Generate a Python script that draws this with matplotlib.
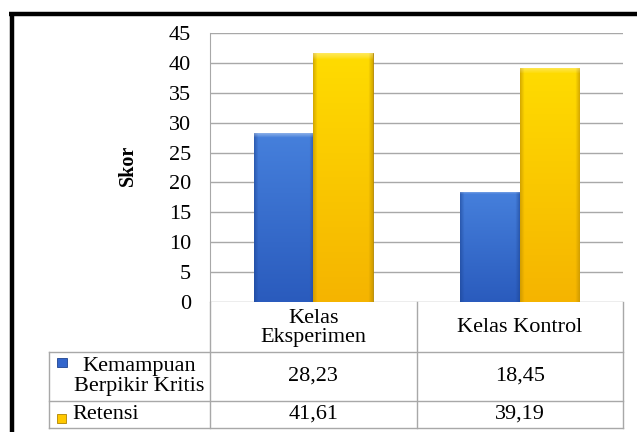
import numpy as np
import matplotlib
matplotlib.use('Agg')
import matplotlib.pyplot as plt
from matplotlib.lines import Line2D
from matplotlib.patches import Rectangle

# DATA
categories = ['Kelas\nEksperimen', 'Kelas Kontrol']
series_names = ['Kemampuan\nBerpikir Kritis', 'Retensi']
kemampuan = [28.23, 18.45]
retensi = [41.61, 39.19]
yticks = [0, 5, 10, 15, 20, 25, 30, 35, 40, 45]

W, H = 637, 432
plt.rcParams['font.family'] = ['Liberation Serif', 'DejaVu Serif']
FS = 16
GRID = '#a8a8a8'

fig = plt.figure(figsize=(W / 100, H / 100), dpi=100)


def fx(x):
    return x / W


def fy(y):
    return 1 - y / H


# plot area in pixel terms of the reference
L, R, T, B = 210, 623, 33, 302
ax = fig.add_axes([fx(L), fy(B), fx(R) - fx(L), fy(T) - fy(B)])

x = np.arange(len(categories))
bw = 0.287
blue_bars = ax.bar(x - bw / 2, kemampuan, bw, color='#3366cc', edgecolor='#1f4490', linewidth=0.6, zorder=3)
gold_bars = ax.bar(x + bw / 2, retensi, bw, color='#ffc800', edgecolor='#b08400', linewidth=0.6, zorder=3)


def shade(bars, top, bottom, edge):
    top = np.array(matplotlib.colors.to_rgb(top))
    bottom = np.array(matplotlib.colors.to_rgb(bottom))
    edge = np.array(matplotlib.colors.to_rgb(edge))
    for b in bars:
        ny, nx = 200, 60
        t = np.linspace(0, 1, ny)[:, None, None]
        img = top * (1 - t) + bottom * t
        img = np.repeat(img, nx, axis=1)
        u = np.linspace(0, 1, nx)
        side = np.clip(1 - np.minimum(u, 1 - u) / 0.07, 0, 1)[None, :, None]
        img = img * (1 - 0.55 * side) + edge * 0.55 * side
        # small highlight at top
        ht = np.clip(1 - np.linspace(0, 1, ny) / 0.025, 0, 1)[:, None, None]
        img = img * (1 - 0.35 * ht) + 0.35 * ht
        x0, w, h = b.get_x(), b.get_width(), b.get_height()
        im = ax.imshow(img, extent=(x0, x0 + w, 0, h), aspect='auto', zorder=4, origin='upper')
        im.set_clip_path(b)


shade(blue_bars, '#4680dc', '#2a5bbd', '#1d4594')
shade(gold_bars, '#ffdc00', '#f5b400', '#b88a00')

ax.set_xlim(-0.5, 1.5)
ax.set_ylim(0, 45)
ax.set_yticks(yticks)
ax.set_yticklabels([str(v) for v in yticks], fontsize=FS)
ax.tick_params(axis='y', length=0, pad=13.5)
ax.set_xticks([])
ax.grid(axis='y', color=GRID, linewidth=1, zorder=0)
ax.set_axisbelow(True)
for s in ['top', 'right', 'bottom']:
    ax.spines[s].set_visible(False)
ax.spines['left'].set_color(GRID)
fig.text(fx(128), fy(165), 'Skor', rotation=90, ha='center', va='center', fontsize=14.5, fontweight='bold')

# data table under the plot
r1, r2, r3 = 352, 401, 428
TL = 49
cols = [L, (L + R) / 2, R]


def hline(y, x0, x1):
    fig.add_artist(Line2D([fx(x0), fx(x1)], [fy(y), fy(y)], color=GRID, lw=1))


def vline(x, y0, y1):
    fig.add_artist(Line2D([fx(x), fx(x)], [fy(y0), fy(y1)], color=GRID, lw=1))


for yy in [r1, r2, r3]:
    hline(yy, TL, R)
for xx in cols:
    vline(xx, B, r3)
vline(TL, r1, r3)

centers = [(cols[0] + cols[1]) / 2, (cols[1] + cols[2]) / 2]
for c, lab in zip(centers, categories):
    fig.text(fx(c), fy((B + r1) / 2 + 1), lab, ha='center', va='center', fontsize=FS, linespacing=0.95)

rows = [(kemampuan, (r1 + r2) / 2), (retensi, (r2 + r3) / 2)]
for vals, yc in rows:
    for c, v in zip(centers, vals):
        fig.text(fx(c), fy(yc), f'{v:.2f}'.replace('.', ','), ha='center', va='center', fontsize=FS)

# legend keys inside the table
fig.add_artist(Rectangle((fx(57), fy(367)), fx(10), 9 / H, facecolor='#3366cc', edgecolor='#1f4490', lw=0.6))
fig.text(fx(139), fy((r1 + r2) / 2), series_names[0], ha='center', va='center', fontsize=FS, linespacing=1.0)
fig.add_artist(Rectangle((fx(57), fy(423)), fx(9), 9 / H, facecolor='#ffc800', edgecolor='#b08400', lw=0.6))
fig.text(fx(72), fy((r2 + r3) / 2), series_names[1], ha='left', va='center', fontsize=FS)

# thick black frame on top and left
fig.add_artist(Line2D([fx(9), 1], [fy(13.5), fy(13.5)], color='black', lw=3.2, solid_capstyle='butt'))
fig.add_artist(Line2D([fx(11.5), fx(11.5)], [fy(12), 0], color='black', lw=3.2, solid_capstyle='butt'))

fig.savefig('out.png', dpi=100)
